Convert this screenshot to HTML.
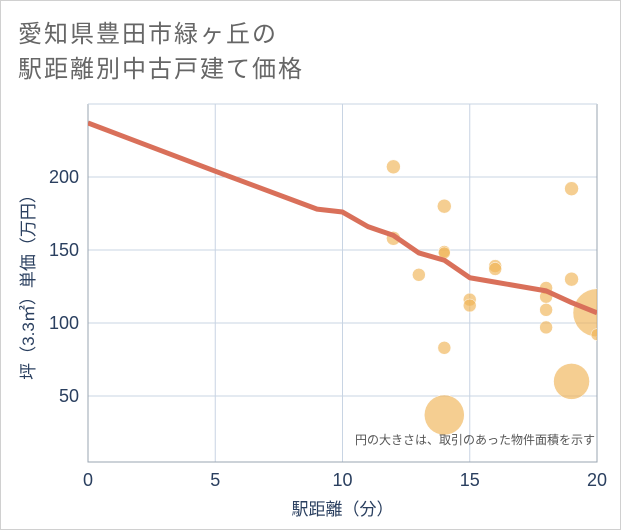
<!DOCTYPE html>
<html><head><meta charset="utf-8">
<style>
html,body{margin:0;padding:0;background:#fff;}
#wrap{position:relative;width:619px;height:528px;border:1px solid #d0d0d0;background:#fff;font-family:"Liberation Sans","Noto Sans CJK JP",sans-serif;}
#title{position:absolute;left:17px;top:16px;font-size:24px;line-height:35px;color:#666;letter-spacing:2px;}
svg{position:absolute;left:0;top:0;}
</style></head>
<body>
<div id="wrap">
<div id="title">愛知県豊田市緑ヶ丘の<br>駅距離別中古戸建て価格</div>
<svg id="chart" width="621" height="530"></svg>
</div>
<script>
const bubbleX=[12,12,13,14,14,14,14,14,15,15,16,16,18,18,18,18,19,19,19,20,20];
const bubbleY=[207,158,133,180,149,148,83,37,116,112,139,137,124,118,109,97,192,130,60,107,92];
const bubbleR=[7,7,6.5,7,6,6,6.5,20,6.5,6.5,6.5,6.5,6.5,6.5,6.5,6.5,7,7,18,24,6];
const lineX=[0,5,9,10,11,12,13,14,15,16,17,18,19,20];
const lineY=[237,204,178,176,166,160,148,143,131,128,125,122,114,107];
const xTicks=[0,5,10,15,20];
const yTicks=[50,100,150,200];
const NS="http://www.w3.org/2000/svg";
const svg=document.getElementById('chart');
const L=87,R=596,T=103,B=461;
const sx=v=>L+(v-0)/20*(R-L);
const sy=v=>468-(v)*1.46;
function mk(t,a){const e=document.createElementNS(NS,t);for(const k in a)e.setAttribute(k,a[k]);svg.appendChild(e);return e;}
const clip=mk('clipPath',{id:'pc'});const cr=document.createElementNS(NS,'rect');
cr.setAttribute('x',L);cr.setAttribute('y',T);cr.setAttribute('width',R-L);cr.setAttribute('height',B-T);clip.appendChild(cr);
xTicks.forEach(v=>{
 if(v>0&&v<20){const g=mk('line',{x1:sx(v),x2:sx(v),y1:T,y2:B,stroke:'#c8d4e3','stroke-width':1});
 
 }
 const t=mk('text',{x:sx(v),y:485,'text-anchor':'middle','font-size':18,fill:'#2a3f5f'});t.textContent=v;
 
 
});
yTicks.forEach(v=>{
 const g=mk('line',{x1:L,x2:R,y1:sy(v),y2:sy(v),stroke:'#c8d4e3','stroke-width':1});
 
 
 const t=mk('text',{x:78,y:sy(v)+6,'text-anchor':'end','font-size':18,fill:'#2a3f5f'});t.textContent=v;
 
 
});
const fr=mk('path',{d:`M${L},${T}V${B}H${R}V${T}`,fill:'none',stroke:'#9aa4b0','stroke-width':1});


const topLine=mk('line',{x1:L,x2:R,y1:T,y2:T,stroke:'#c8d4e3'});


const gB=mk('g',{'clip-path':'url(#pc)'});
bubbleX.forEach((x,i)=>{
 const c=document.createElementNS(NS,'circle');
 c.setAttribute('cx',sx(x));c.setAttribute('cy',sy(bubbleY[i]));c.setAttribute('r',bubbleR[i]);
 c.setAttribute('fill','#f0b456');c.setAttribute('fill-opacity','0.65');c.setAttribute('stroke','#fff');c.setAttribute('stroke-width','0.5');
 
 
 gB.appendChild(c);
});
const ln=mk('polyline',{points:lineX.map((x,i)=>sx(x)+','+sy(lineY[i])).join(' '),fill:'none',stroke:'#d9705a','stroke-width':5,'stroke-linejoin':'round','clip-path':'url(#pc)'});


const note=mk('text',{x:594,y:443,'text-anchor':'end','font-size':12,fill:'#555'});note.textContent='円の大きさは、取引のあった物件面積を示す';


const xt=mk('text',{x:(L+R)/2,y:514,'text-anchor':'middle','font-size':17,fill:'#2a3f5f'});xt.textContent='駅距離（分）';


const yt=mk('text',{x:0,y:0,'text-anchor':'middle','font-size':17,fill:'#2a3f5f',transform:`translate(33,${(T+B)/2}) rotate(-90)`});yt.textContent='坪（3.3㎡）単価（万円）';


</script>
</body></html>
